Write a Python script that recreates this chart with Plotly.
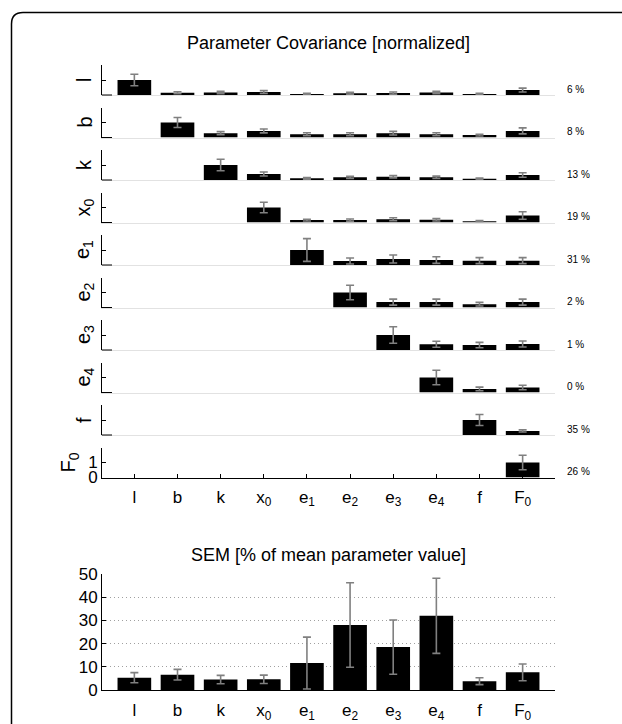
import plotly.graph_objects as go

# ---------------- data ----------------
params = ["l", "b", "k", "x0", "e1", "e2", "e3", "e4", "f", "F0"]
param_labels = ["l", "b", "k", "x<sub>0</sub>", "e<sub>1</sub>", "e<sub>2</sub>",
                "e<sub>3</sub>", "e<sub>4</sub>", "f", "F<sub>0</sub>"]

# normalized covariance rows (upper triangle), None = not drawn
cov_l  = [1.00, 0.15, 0.17, 0.20, 0.07, 0.12, 0.13, 0.17, 0.07, 0.33]
cov_b  = [None, 1.00, 0.29, 0.44, 0.22, 0.22, 0.29, 0.22, 0.16, 0.44]
cov_k  = [None, None, 1.00, 0.40, 0.11, 0.18, 0.22, 0.18, 0.09, 0.33]
cov_x0 = [None, None, None, 1.00, 0.16, 0.16, 0.22, 0.18, 0.09, 0.47]
cov_e1 = [None, None, None, None, 1.00, 0.27, 0.40, 0.33, 0.29, 0.29]
cov_e2 = [None, None, None, None, None, 1.00, 0.36, 0.36, 0.22, 0.36]
cov_e3 = [None, None, None, None, None, None, 1.00, 0.38, 0.33, 0.40]
cov_e4 = [None, None, None, None, None, None, None, 1.00, 0.24, 0.33]
cov_f  = [None, None, None, None, None, None, None, None, 1.00, 0.27]
cov_F0 = [None, None, None, None, None, None, None, None, None, 1.00]

err_l  = [0.38, 0.07, 0.08, 0.09, 0.04, 0.06, 0.07, 0.08, 0.04, 0.13]
err_b  = [None, 0.33, 0.10, 0.13, 0.10, 0.10, 0.12, 0.10, 0.06, 0.20]
err_k  = [None, None, 0.38, 0.13, 0.05, 0.07, 0.08, 0.08, 0.04, 0.15]
err_x0 = [None, None, None, 0.35, 0.06, 0.07, 0.10, 0.08, 0.04, 0.25]
err_e1 = [None, None, None, None, 0.76, 0.20, 0.27, 0.22, 0.20, 0.20]
err_e2 = [None, None, None, None, None, 0.48, 0.20, 0.20, 0.12, 0.20]
err_e3 = [None, None, None, None, None, None, 0.55, 0.20, 0.18, 0.20]
err_e4 = [None, None, None, None, None, None, None, 0.48, 0.12, 0.15]
err_f  = [None, None, None, None, None, None, None, None, 0.37, 0.07]
err_F0 = [None, None, None, None, None, None, None, None, None, 0.48]

cov_rows = [cov_l, cov_b, cov_k, cov_x0, cov_e1, cov_e2, cov_e3, cov_e4, cov_f, cov_F0]
err_rows = [err_l, err_b, err_k, err_x0, err_e1, err_e2, err_e3, err_e4, err_f, err_F0]
row_percent = ["6 %", "8 %", "13 %", "19 %", "31 %", "2 %", "1 %", "0 %", "35 %", "26 %"]

sem_values = [5.3, 6.6, 4.5, 4.6, 11.6, 28.0, 18.5, 32.0, 3.8, 7.6]
sem_errors = [2.2, 2.3, 1.8, 1.8, 11.2, 18.2, 11.7, 16.2, 1.5, 3.6]

top_title = "Parameter Covariance [normalized]"
bottom_title = "SEM [% of mean parameter value]"

# ---------------- layout helpers ----------------
W, H = 622, 724
FONT = "Liberation Sans, Arial, Helvetica, sans-serif"


def px(x):
    return x / W


def py(y):
    return 1 - y / H


X_LEFT, X_RIGHT = 102, 555
x_dom = [px(X_LEFT), px(X_RIGHT)]
x_range = [0.25, 10.75]
cat_pos = list(range(1, len(params) + 1))

fig = go.Figure()
layout = dict(
    template="none",
    width=W, height=H,
    margin=dict(l=0, r=0, t=0, b=0, pad=0, autoexpand=False),
    paper_bgcolor="white", plot_bgcolor="white",
    showlegend=False,
    font=dict(family=FONT, size=17, color="black"),
)
annotations = []
shapes = []

n = len(params)
for i in range(n):
    k = i + 1
    xa = "x" if k == 1 else f"x{k}"
    ya = "y" if k == 1 else f"y{k}"
    xs = [cat_pos[j] for j in range(n) if cov_rows[i][j] is not None]
    ys = [cov_rows[i][j] for j in range(n) if cov_rows[i][j] is not None]
    es = [err_rows[i][j] for j in range(n) if cov_rows[i][j] is not None]
    fig.add_trace(go.Bar(
        x=xs, y=ys, xaxis=xa, yaxis=ya, width=0.78,
        marker=dict(color="black", line=dict(width=0)),
        error_y=dict(type="data", array=es, color="#808080", thickness=1.6, width=4),
        hoverinfo="skip",
    ))
    base = 95 + 42.5 * i
    last = (i == n - 1)
    xkey = "xaxis" if k == 1 else f"xaxis{k}"
    ykey = "yaxis" if k == 1 else f"yaxis{k}"
    layout[xkey] = dict(
        domain=x_dom, anchor=ya, range=x_range, fixedrange=True, automargin=False,
        showgrid=False, zeroline=False,
        showline=True, linecolor="black" if last else "#e2e2e2", linewidth=1,
        layer="below traces",
        tickmode="array", tickvals=cat_pos, ticktext=param_labels,
        ticks="inside" if last else "", ticklen=4, tickcolor="black",
        showticklabels=last, tickfont=dict(size=17), ticklabelstandoff=4,
    )
    layout[ykey] = dict(
        domain=[py(base), py(base - 30)], anchor=xa, range=[0, 2], fixedrange=True,
        automargin=False,
        showgrid=False, zeroline=False,
        showline=True, linecolor="black", linewidth=1,
        tickmode="array", tickvals=[0, 1] if last else [1],
        ticks="inside", ticklen=4, tickcolor="black",
        showticklabels=last, tickfont=dict(size=17),
    )
    if not last:
        # short black foot of the left spine
        shapes.append(dict(type="line", xref="paper", yref="paper",
                           x0=px(X_LEFT), x1=px(X_LEFT + 10), y0=py(base), y1=py(base),
                           line=dict(color="black", width=1)))
    # row label
    annotations.append(dict(
        text=param_labels[i], xref="paper", yref="paper",
        x=px(69 if last else 84), y=py(base - 15), xanchor="center", yanchor="middle",
        textangle=-90, showarrow=False, font=dict(size=20, family=FONT)))
    # percent label
    annotations.append(dict(
        text=row_percent[i], xref="paper", yref="paper",
        x=px(565), y=py(base - 6), xanchor="left", yanchor="middle",
        showarrow=False, font=dict(size=10, family=FONT)))

# ---------------- bottom SEM chart ----------------
kb = n + 1
fig.add_trace(go.Bar(
    x=cat_pos, y=sem_values, xaxis=f"x{kb}", yaxis=f"y{kb}", width=0.78,
    marker=dict(color="black", line=dict(width=0)),
    error_y=dict(type="data", array=sem_errors, color="#808080", thickness=1.6, width=4),
    hoverinfo="skip",
))
layout[f"xaxis{kb}"] = dict(
    domain=x_dom, anchor=f"y{kb}", range=x_range, fixedrange=True, automargin=False,
    showgrid=False, zeroline=False,
    showline=True, linecolor="black", linewidth=1,
    tickmode="array", tickvals=cat_pos, ticktext=param_labels,
    ticks="", tickfont=dict(size=17), ticklabelstandoff=5,
)
layout[f"yaxis{kb}"] = dict(
    domain=[py(690), py(574)], anchor=f"x{kb}", range=[0, 50], fixedrange=True,
    automargin=False,
    showgrid=True, gridcolor="#a0a0a0", griddash="1px,3px", gridwidth=1,
    zeroline=False,
    showline=True, linecolor="black", linewidth=1,
    tickmode="array", tickvals=[0, 10, 20, 30, 40, 50],
    ticks="inside", ticklen=4, tickcolor="black", tickfont=dict(size=17),
)

# titles
annotations.append(dict(text=top_title, xref="paper", yref="paper",
                        x=px((X_LEFT + X_RIGHT) / 2), y=py(43), xanchor="center", yanchor="middle",
                        showarrow=False, font=dict(size=18, family=FONT)))
annotations.append(dict(text=bottom_title, xref="paper", yref="paper",
                        x=px((X_LEFT + X_RIGHT) / 2), y=py(555), xanchor="center", yanchor="middle",
                        showarrow=False, font=dict(size=18, family=FONT)))

# rounded frame (top-left corner), open to the right and bottom
frame_path = (f"M {px(11.5)} {py(724)} L {px(11.5)} {py(24)} "
              f"Q {px(11.5)} {py(12.5)} {px(23)} {py(12.5)} L {px(622)} {py(12.5)}")
shapes.append(dict(type="path", xref="paper", yref="paper", path=frame_path,
                   line=dict(color="black", width=1.5)))

layout["annotations"] = annotations
layout["shapes"] = shapes
fig.update_layout(**layout)

fig.write_html(
    "out.html",
    config={"displayModeBar": False, "staticPlot": True},
    post_script="document.body.style.margin='0';document.body.style.overflow='hidden';",
)
